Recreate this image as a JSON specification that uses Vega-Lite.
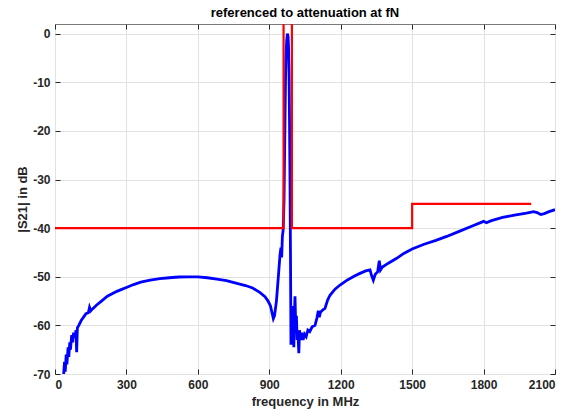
{
  "$schema": "https://vega.github.io/schema/vega-lite/v6.json",
  "width": 500,
  "height": 350,
  "autosize": "none",
  "padding": {"left": 55, "top": 24, "right": 21, "bottom": 42},
  "title": {"text": "referenced to attenuation at fN", "fontSize": 13, "fontWeight": "bold", "font": "Liberation Sans", "color": "#000000", "offset": 4},
  "config": {
    "view": {"stroke": "#7a7a7a", "strokeWidth": 1},
    "axis": {
      "labelFont": "Liberation Sans", "labelFontWeight": "bold", "labelFontSize": 12, "labelColor": "#262626",
      "titleFont": "Liberation Sans", "titleFontWeight": "bold", "titleFontSize": 13, "titleColor": "#262626",
      "tickColor": "#262626", "tickSize": -5, "gridColor": "#e2e2e2", "gridWidth": 1, "domain": false,
      "labelExpr": "'' + datum.value"
    }
  },
  "layer": [
    {
      "data": {"values": [
        {"f":35,"s":-71},{"f":40,"s":-67.5},{"f":43,"s":-69.5},{"f":47,"s":-66},{"f":50,"s":-68},{"f":55,"s":-64.5},{"f":58,"s":-66.5},{"f":62,"s":-63.5},{"f":65,"s":-65},{"f":70,"s":-62},{"f":74,"s":-63.5},{"f":78,"s":-61.5},{"f":84,"s":-62.5},{"f":88,"s":-61},{"f":91,"s":-65.5},{"f":94,"s":-60.5},{"f":100,"s":-60},{"f":110,"s":-59},{"f":120,"s":-58.3},{"f":130,"s":-57.6},{"f":140,"s":-57.4},{"f":145,"s":-56.3},{"f":150,"s":-57},{"f":160,"s":-56.5},{"f":175,"s":-55.8},{"f":190,"s":-55.2},{"f":200,"s":-54.8},{"f":220,"s":-54},{"f":240,"s":-53.5},{"f":260,"s":-53},{"f":280,"s":-52.6},{"f":300,"s":-52.2},{"f":330,"s":-51.6},{"f":360,"s":-51.1},{"f":400,"s":-50.7},{"f":440,"s":-50.4},{"f":480,"s":-50.2},{"f":520,"s":-50.05},{"f":560,"s":-50},{"f":600,"s":-50},{"f":640,"s":-50.2},{"f":680,"s":-50.5},{"f":720,"s":-50.8},{"f":760,"s":-51.3},{"f":800,"s":-51.8},{"f":830,"s":-52.3},{"f":860,"s":-53.2},{"f":882,"s":-54.1},{"f":895,"s":-55},{"f":905,"s":-56},{"f":912,"s":-57.5},{"f":917,"s":-58.6},{"f":922,"s":-58},{"f":930,"s":-55},{"f":938,"s":-50},{"f":945,"s":-45.5},{"f":949,"s":-44},{"f":952,"s":-46},{"f":955,"s":-41.7},{"f":958,"s":-40.5},{"f":960,"s":-38},{"f":962,"s":-34},{"f":964,"s":-26},{"f":966,"s":-18},{"f":968,"s":-10},{"f":970,"s":-5},{"f":973,"s":-1.5},{"f":976,"s":0},{"f":979,"s":-0.5},{"f":981,"s":-3},{"f":983,"s":-8},{"f":985,"s":-18},{"f":987,"s":-30},{"f":989,"s":-45},{"f":991,"s":-64},{"f":994,"s":-58},{"f":997,"s":-63},{"f":1000,"s":-56},{"f":1003,"s":-64.5},{"f":1006,"s":-57},{"f":1008,"s":-54},{"f":1011,"s":-60},{"f":1014,"s":-58},{"f":1017,"s":-63},{"f":1020,"s":-61},{"f":1024,"s":-65.7},{"f":1027,"s":-61},{"f":1031,"s":-63},{"f":1036,"s":-61.5},{"f":1042,"s":-63},{"f":1048,"s":-61.8},{"f":1055,"s":-62.3},{"f":1062,"s":-61},{"f":1070,"s":-61.3},{"f":1080,"s":-60.3},{"f":1092,"s":-60},{"f":1100,"s":-58.5},{"f":1106,"s":-57},{"f":1110,"s":-58.3},{"f":1115,"s":-57.3},{"f":1125,"s":-56.8},{"f":1134,"s":-56.5},{"f":1145,"s":-54.8},{"f":1155,"s":-53.8},{"f":1175,"s":-52.6},{"f":1197,"s":-51.7},{"f":1230,"s":-50.6},{"f":1260,"s":-49.8},{"f":1281,"s":-49.3},{"f":1305,"s":-48.8},{"f":1323,"s":-48.6},{"f":1330,"s":-49.8},{"f":1337,"s":-50.7},{"f":1345,"s":-49.5},{"f":1355,"s":-49},{"f":1362,"s":-46.7},{"f":1367,"s":-48.6},{"f":1375,"s":-48},{"f":1400,"s":-47.2},{"f":1435,"s":-46.2},{"f":1465,"s":-45.2},{"f":1500,"s":-44.3},{"f":1550,"s":-43.3},{"f":1600,"s":-42.5},{"f":1645,"s":-41.7},{"f":1700,"s":-40.6},{"f":1750,"s":-39.6},{"f":1790,"s":-38.8},{"f":1800,"s":-38.6},{"f":1812,"s":-38.9},{"f":1830,"s":-38.5},{"f":1880,"s":-37.8},{"f":1930,"s":-37.3},{"f":1980,"s":-36.9},{"f":2010,"s":-36.6},{"f":2025,"s":-36.8},{"f":2040,"s":-37.2},{"f":2055,"s":-37},{"f":2075,"s":-36.6},{"f":2100,"s":-36.2}
      ]},
      "mark": {"type": "line", "color": "#0000ff", "strokeWidth": 2.8, "clip": true},
      "encoding": {
        "x": {"field": "f", "type": "quantitative", "scale": {"domain": [0, 2100], "nice": false, "zero": false},
              "axis": {"orient": "bottom", "values": [0,300,600,900,1200,1500,1800,2100], "title": "frequency in MHz", "labelPadding": 10, "titlePadding": 5, "grid": true}},
        "y": {"field": "s", "type": "quantitative", "scale": {"domain": [-70, 2], "nice": false, "zero": false},
              "axis": {"orient": "left", "values": [-70,-60,-50,-40,-30,-20,-10,0], "title": "|S21| in dB", "labelPadding": 10, "titlePadding": 3, "grid": true}}
      }
    },
    {
      "data": {"values": [
        {"i":1,"f":0,"s":-40},{"i":2,"f":960,"s":-40},{"i":3,"f":960,"s":10},{"i":4,"f":995,"s":10},{"i":5,"f":995,"s":-40},{"i":6,"f":1500,"s":-40},{"i":7,"f":1500,"s":-35},{"i":8,"f":2000,"s":-35}
      ]},
      "mark": {"type": "line", "color": "#ff0000", "strokeWidth": 2.2, "clip": true},
      "encoding": {
        "x": {"field": "f", "type": "quantitative", "axis": {"orient": "top", "values": [0,300,600,900,1200,1500,1800,2100], "labels": false, "title": null, "grid": false}},
        "y": {"field": "s", "type": "quantitative", "axis": {"orient": "right", "values": [-70,-60,-50,-40,-30,-20,-10,0], "labels": false, "title": null, "grid": false}},
        "order": {"field": "i", "type": "quantitative"}
      }
    }
  ],
  "resolve": {"axis": {"x": "independent", "y": "independent"}}
}
